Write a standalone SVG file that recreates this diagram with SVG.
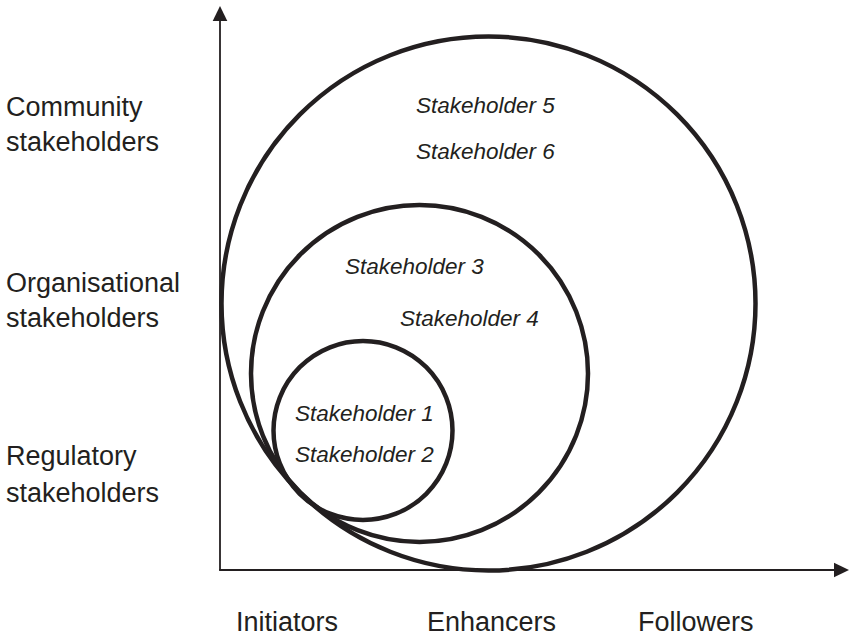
<svg xmlns="http://www.w3.org/2000/svg" width="849" height="638" viewBox="0 0 849 638">
<style>
.axis{stroke:#231f20;stroke-width:1.8;fill:none}
.head{fill:#231f20;stroke:none}
.ring{fill:none;stroke:#231f20;stroke-width:4.5}
.lbl{font-family:"Liberation Sans",Arial,sans-serif;font-size:27px;fill:#231f20}
.sh{font-family:"Liberation Sans",Arial,sans-serif;font-size:22.5px;font-style:italic;fill:#231f20}
</style>
<rect width="849" height="638" fill="#ffffff"/>
<g id="connectors">
<line class="axis" x1="220" y1="570" x2="220" y2="19"/>
<line class="axis" x1="219.1" y1="570" x2="836" y2="570"/>
<polygon class="head" points="220,6 227.3,21 212.7,21"/>
<polygon class="head" points="849,570 834,562.7 834,577.3"/>
</g>
<g id="circle-community"><circle class="ring" cx="488.5" cy="303.5" r="267"/></g>
<g id="circle-organisational"><circle class="ring" cx="419.5" cy="373.5" r="168.5"/></g>
<g id="circle-regulatory"><circle class="ring" cx="363" cy="430.5" r="89.5"/></g>
<g id="stakeholder-5"><text class="sh" x="416" y="113">Stakeholder 5</text></g>
<g id="stakeholder-6"><text class="sh" x="416" y="159">Stakeholder 6</text></g>
<g id="stakeholder-3"><text class="sh" x="345" y="274">Stakeholder 3</text></g>
<g id="stakeholder-4"><text class="sh" x="400" y="326">Stakeholder 4</text></g>
<g id="stakeholder-1"><text class="sh" x="295" y="421">Stakeholder 1</text></g>
<g id="stakeholder-2"><text class="sh" x="295" y="462">Stakeholder 2</text></g>
<g id="label-community"><text class="lbl" x="6" y="116">Community</text><text class="lbl" x="6" y="151">stakeholders</text></g>
<g id="label-organisational"><text class="lbl" x="6" y="292">Organisational</text><text class="lbl" x="6" y="327">stakeholders</text></g>
<g id="label-regulatory"><text class="lbl" x="6" y="465">Regulatory</text><text class="lbl" x="6" y="502">stakeholders</text></g>
<g id="label-initiators"><text class="lbl" x="236" y="631">Initiators</text></g>
<g id="label-enhancers"><text class="lbl" x="427" y="631">Enhancers</text></g>
<g id="label-followers"><text class="lbl" x="638" y="631">Followers</text></g>
</svg>
